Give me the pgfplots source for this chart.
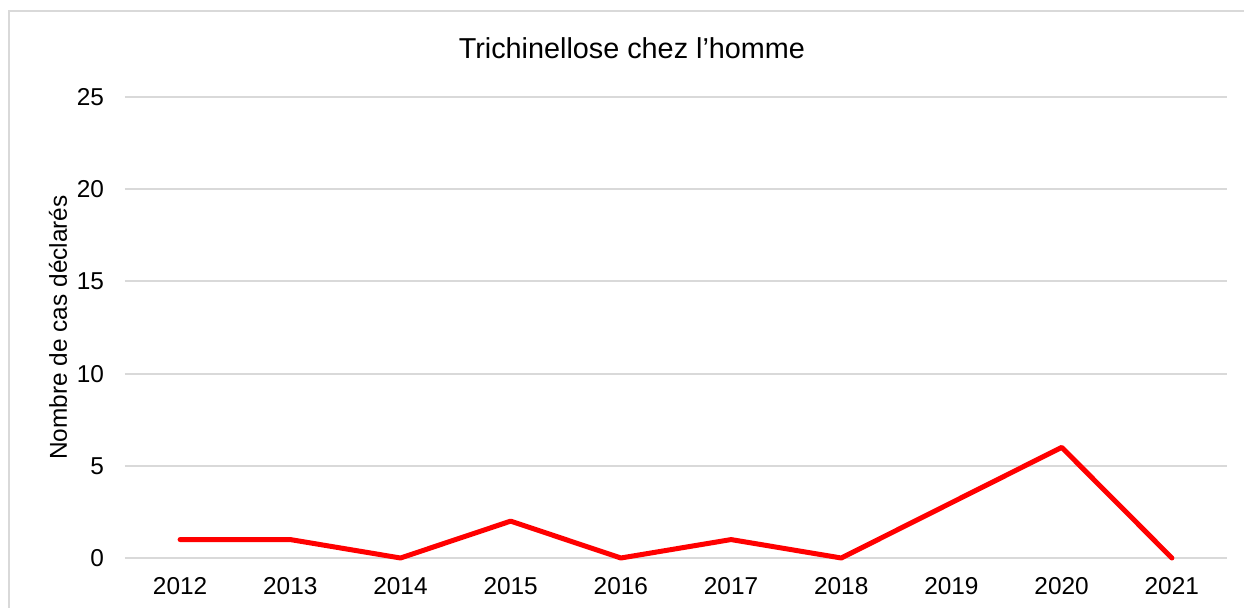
\documentclass[border=0pt]{standalone}
\usepackage{pgfplots}
\pgfplotsset{compat=1.18}
\usepackage{fontspec}
\setmainfont{Liberation Sans}
\definecolor{gridgray}{HTML}{D9D9D9}
\definecolor{linered}{HTML}{FF0000}
\begin{document}
\begin{tikzpicture}
\useasboundingbox (-62.5pt,-24.5pt) rectangle (559.5pt,279pt);
\draw[gridgray, line width=1pt] (-58pt,-40pt) -- (-58pt,273.5pt) -- (580pt,273.5pt);
\begin{axis}[
  at={(0pt,0pt)}, anchor=origin,
  scale only axis, width=551pt, height=230.5pt,
  xmin=2011.5, xmax=2021.5, ymin=0, ymax=25,
  xtick={2012,...,2021}, ytick={0,5,...,25},
  xticklabel style={/pgf/number format/1000 sep={}},
  /pgf/number format/assume math mode=true,
  tick label style={font=\fontsize{12.2}{14}\selectfont},
  major tick length=0pt,
  axis line style={draw=none},
  ymajorgrids, grid style={gridgray, line width=1pt},
  yticklabel style={xshift=-7pt},
  xticklabel style={yshift=-6pt},
  ylabel={Nombre de cas déclarés},
  ylabel style={font=\fontsize{12.2}{14}\selectfont, at={(axis description cs:-0.0608,0.5)}, anchor=center},
  title={Trichinellose chez l’homme},
  title style={font=\fontsize{14.4}{16}\selectfont, at={(axis description cs:0.46,1)}, anchor=base, yshift=13.5pt},
  clip=false,
]
\addplot[linered, line width=2.5pt, line join=round, line cap=round] coordinates {
(2012,1) (2013,1) (2014,0) (2015,2) (2016,0) (2017,1) (2018,0) (2019,3) (2020,6) (2021,0)};
\end{axis}
\end{tikzpicture}
\end{document}
